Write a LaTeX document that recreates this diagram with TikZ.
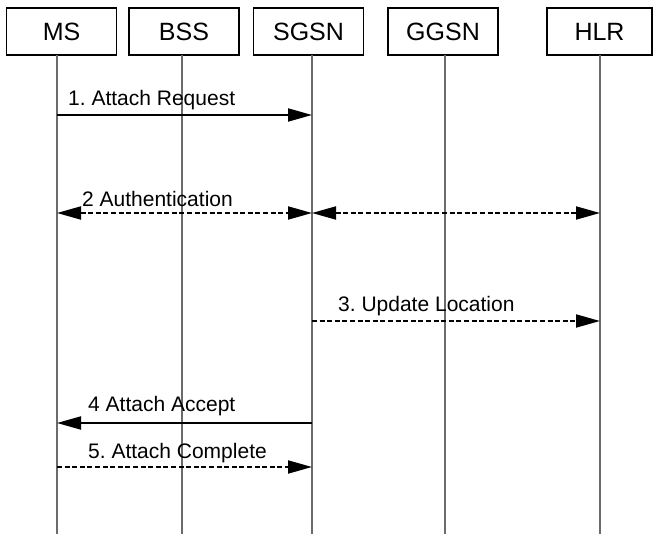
\documentclass[tikz,border=0pt]{standalone}
\usepackage{fontspec}
\setmainfont{Liberation Sans}
\usetikzlibrary{arrows.meta}
\frenchspacing

\tikzset{
  entity/.style={draw=black, line width=1.8pt, minimum width=110pt, minimum height=47pt,
                 inner sep=0pt, font=\fontsize{25}{25}\selectfont},
  lifeline/.style={draw=black!58, line width=1.6pt},
  msg/.style={line width=1.9pt, -{Triangle[length=24pt,width=13pt]}},
  twoway/.style={line width=1.9pt, {Triangle[length=24pt,width=13pt]}-{Triangle[length=24pt,width=13pt]}},
  dashedmsg/.style={dash pattern=on 5pt off 2.6pt},
  msglabel/.style={anchor=base west, inner sep=0pt, font=\fontsize{21}{21}\selectfont}
}

\begin{document}
\begin{tikzpicture}[x=1pt,y=-1pt]
  \useasboundingbox (0,0) rectangle (653,534);

  % entity boxes
  \node[entity] (msbox)   at (61.5,31.5)  {MS};
  \node[entity] (bssbox)  at (184,31.5)   {BSS};
  \node[entity] (sgsnbox) at (308.5,31.5) {SGSN};
  \node[entity] (ggsnbox) at (443,31.5)   {GGSN};
  \node[entity, minimum width=105pt] (hlrbox) at (599.5,31.5) {HLR};

  % lifeline positions
  \coordinate (ms)   at (57,0);
  \coordinate (bss)  at (182,0);
  \coordinate (sgsn) at (312,0);
  \coordinate (ggsn) at (445,0);
  \coordinate (hlr)  at (600,0);
  \coordinate (bottom) at (0,534);
  \coordinate (top) at (0,55);

  \foreach \l in {ms,bss,sgsn,ggsn,hlr}
    \draw[lifeline] (\l |- top) -- (\l |- bottom);

  % message levels
  \coordinate (y1) at (0,115);
  \coordinate (y2) at (0,213);
  \coordinate (y3) at (0,321);
  \coordinate (y4) at (0,423);
  \coordinate (y5) at (0,467);

  % 1. Attach Request
  \draw[msg] (ms |- y1) -- (sgsn |- y1);
  \node[msglabel] (l1) at (68,106) {1. Attach Request};

  % 2 Authentication
  \draw[twoway, dashedmsg] (ms |- y2) -- (sgsn |- y2);
  \draw[twoway, dashedmsg] (sgsn |- y2) -- (hlr |- y2);
  \node[msglabel] (l2) at (82,207) {2 Authentication};

  % 3. Update Location
  \draw[msg, dashedmsg] (sgsn |- y3) -- (hlr |- y3);
  \node[msglabel] (l3) at (338,312) {3. Update Location};

  % 4 Attach Accept
  \draw[msg] (sgsn |- y4) -- (ms |- y4);
  \node[msglabel] (l4) at (88,411) {4 Attach Accept};

  % 5. Attach Complete
  \draw[msg, dashedmsg] (ms |- y5) -- (sgsn |- y5);
  \node[msglabel] (l5) at (88,458) {5. Attach Complete};
\end{tikzpicture}
\end{document}
